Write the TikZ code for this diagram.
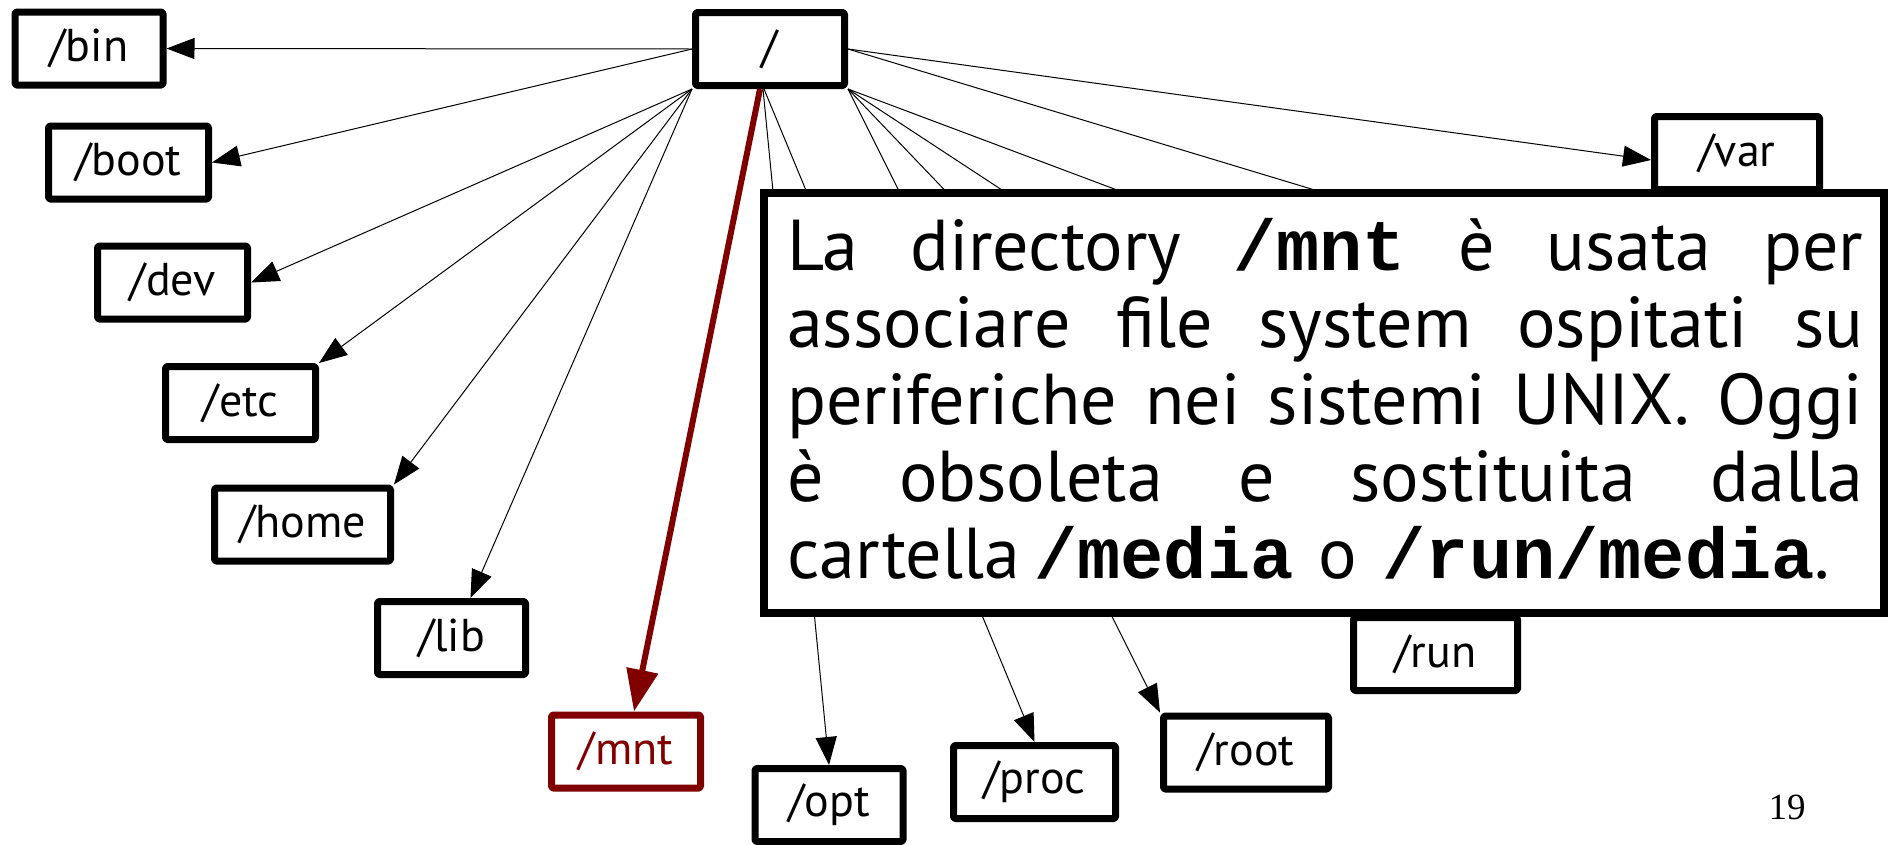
\documentclass[tikz,border=0pt]{standalone}
\usepackage{fontspec}
\setmainfont{PT Sans}
\setmonofont{Liberation Mono}
\newfontfamily\numfont{Liberation Serif}
\usetikzlibrary{arrows.meta}
\definecolor{darkred}{RGB}{128,0,0}
\tikzset{
  dirbox/.style={draw, line width=7pt, rectangle, inner sep=0pt, minimum height=73pt,
    line join=round, rounded corners=1.5pt, fill=white, font=\fontsize{46}{50}\selectfont},
  edge/.style={line width=1pt, -{Triangle[length=28pt,width=21pt]}},
  plainedge/.style={line width=1pt},
  rededge/.style={draw=darkred, line width=6pt, -{Triangle[length=42pt,width=31pt]}},
}
\newcommand{\mb}[1]{\texttt{\textbf{#1}}}
\newcommand{\jline}[1]{\leavevmode\hbox to 1076pt{#1}}
\begin{document}
\begin{tikzpicture}[x=1pt,y=-1pt]
\useasboundingbox (0,0) rectangle (1888,844);
% nodes
\node[dirbox, minimum width=149pt] (root) at (770,49) {/};
\node[dirbox, minimum width=148pt] (bin) at (89,48.5) {/bin};
\node[dirbox, minimum width=160pt] (boot) at (128.5,162.5) {/boot};
\node[dirbox, minimum width=150pt] (dev) at (172.5,282.5) {/dev};
\node[dirbox, minimum width=150pt] (etc) at (240.5,403) {/etc};
\node[dirbox, minimum width=176pt] (home) at (302.5,524.5) {/home};
\node[dirbox, minimum width=148pt] (lib) at (451.5,638) {/lib};
\node[dirbox, minimum width=149pt, draw=darkred, text=darkred] (mnt) at (626,751.5) {/mnt};
\node[dirbox, minimum width=148pt] (opt) at (829,805) {/opt};
\node[dirbox, minimum width=162pt] (proc) at (1034.5,782) {/proc};
\node[dirbox, minimum width=165pt] (rootdir) at (1246,752.5) {/root};
\node[dirbox, minimum width=164pt] (run) at (1435.5,654) {/run};
\node[dirbox, minimum width=165pt] (var) at (1737,153) {/var};
% hidden end points (under the callout)
\coordinate (h1) at (1310,392);
\coordinate (h2) at (1655,392);
\coordinate (h3) at (1778,330);
% edges
\draw[edge] (root.west) -- (bin.east);
\draw[edge] (root.west) -- (boot.east);
\draw[edge] (root.south west) -- (dev.east);
\draw[edge] (root.south west) -- (etc.north east);
\draw[edge] (root.south west) -- (home.north east);
\draw[edge] (root.south west) -- ([xshift=19pt]lib.north);
\draw[rededge] ([xshift=-10pt]root.south) -- ([xshift=8pt]mnt.north);
\draw[edge] ([xshift=-7pt]root.south) -- (opt.north);
\draw[edge] ([xshift=-6pt]root.south) -- (proc.north);
\draw[edge] (root.south east) -- (rootdir.north west);
\draw[edge] (root.south east) -- (run.north west);
\draw[plainedge] (root.south east) -- (h1);
\draw[plainedge] (root.south east) -- (h2);
\draw[plainedge] (root.east) -- (h3);
\draw[edge] (root.east) -- ([yshift=-7pt]var.west);
% callout
\node[draw, line width=8pt, fill=white, rectangle, inner sep=0pt,
      minimum width=1120pt, minimum height=420pt] (callout) at (1324,403) {};
\node[anchor=base west, inner sep=0pt, text width=1080pt, align=left,
      font=\fontsize{72}{77}\selectfont] (calltext) at (787,270) {%
\jline{La\hfill directory\hfill \mb{/mnt}\hfill è\hfill usata\hfill per}\\
\jline{associare\hfill file\hfill system\hfill ospitati\hfill su}\\
\jline{periferiche\hfill nei\hfill sistemi\hfill UNIX.\hfill Oggi}\\
\jline{è\hfill obsoleta\hfill e\hfill sostituita\hfill dalla}\\
cartella\hspace{0.2em}\mb{/media}\hspace{0.35em}o\hspace{0.35em}\mb{/run/media}.};
% page number
\node[font=\numfont\fontsize{37}{40}\selectfont, inner sep=0pt] (pagenum) at (1787,807) {19};
\end{tikzpicture}
\end{document}
